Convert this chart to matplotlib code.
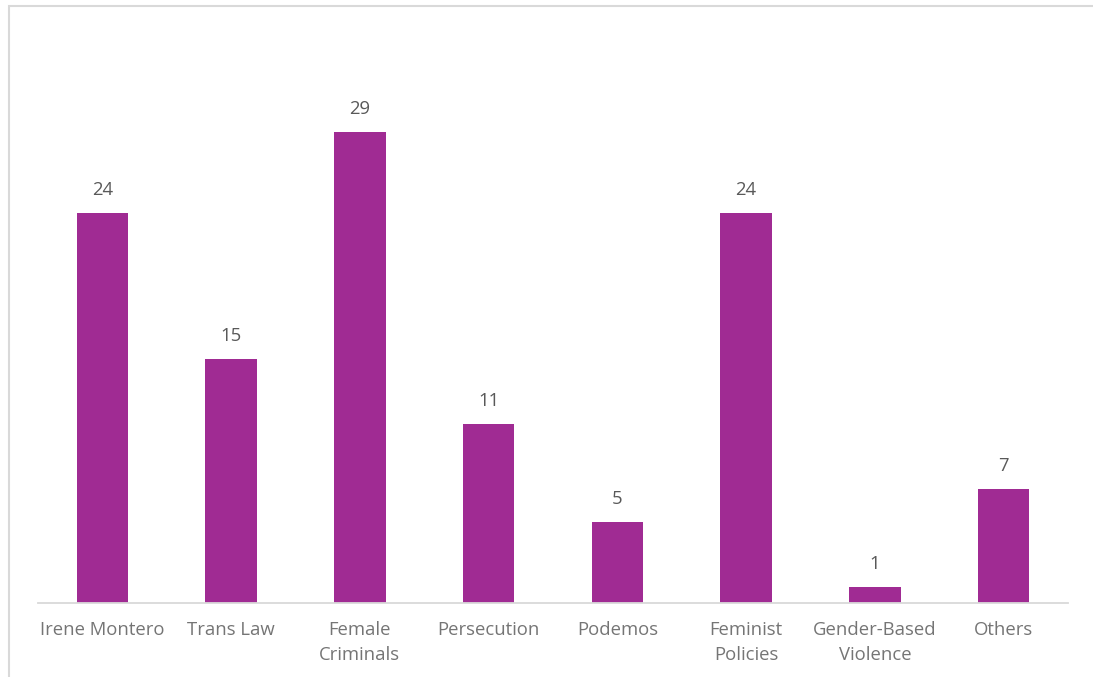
import matplotlib
matplotlib.use("Agg")
import matplotlib.pyplot as plt
from matplotlib.patches import Rectangle

categories = ["Irene Montero", "Trans Law", "Female\nCriminals", "Persecution",
              "Podemos", "Feminist\nPolicies", "Gender-Based\nViolence", "Others"]
values = [24, 15, 29, 11, 5, 24, 1, 7]

W, H = 1093, 677
fig = plt.figure(figsize=(W / 100, H / 100), dpi=100)
plt.rcParams['font.family'] = ['Open Sans', 'DejaVu Sans']

# chart area border
fig.patches.append(Rectangle((9 / W, -0.1), 1.2, (H - 6) / H + 0.1, transform=fig.transFigure,
                             fill=False, edgecolor='#D9D9D9', linewidth=1.5))

left, right = 38 / W, 1068 / W
bottom, top = (H - 603) / H, (H - 34) / H
ax = fig.add_axes([left, bottom, right - left, top - bottom])
x = range(len(categories))
bars = ax.bar(x, values, width=0.4, color='#A02B93')
ax.set_xlim(-0.5, len(categories) - 0.5)
ax.set_ylim(0, 35)
for s in ['top', 'right', 'left']:
    ax.spines[s].set_visible(False)
ax.spines['bottom'].set_color('#D9D9D9')
ax.spines['bottom'].set_linewidth(1.3)
ax.set_yticks([])
ax.set_xticks(list(x))
ax.set_xticklabels(categories, fontsize=13.3, color='#757575', linespacing=1.5)
ax.tick_params(axis='x', length=0, pad=13)
for xi, v in zip(x, values):
    ax.annotate(str(v), (xi, v), xytext=(0, 10), textcoords='offset points',
                ha='center', va='bottom', fontsize=13.3, color='#595959')
ax.patch.set_visible(False)
fig.savefig('out.png', dpi=100)
